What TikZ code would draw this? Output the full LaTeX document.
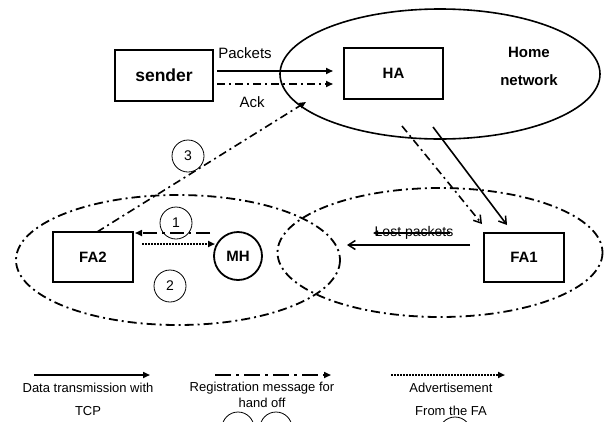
\documentclass[tikz,border=0pt]{standalone}
\usepackage{fontspec}
\setmainfont{Liberation Sans}
\usetikzlibrary{arrows.meta}
\begin{document}
\begin{tikzpicture}[x=1pt,y=-1pt,
  box/.style={draw, line width=1.8pt, inner sep=0pt, font=\fontsize{15}{18}\selectfont\bfseries},
  mhnode/.style={draw, circle, line width=1.8pt, minimum size=48pt, inner sep=0pt, font=\fontsize{15}{18}\selectfont\bfseries},
  num/.style={draw, circle, line width=0.8pt, minimum size=32pt, inner sep=0pt, font=\fontsize{14}{16}\selectfont},
  lbl/.style={inner sep=0pt, font=\fontsize{15}{18}\selectfont},
  leg/.style={inner sep=0pt, font=\fontsize{13}{15}\selectfont},
  area/.style={line width=1.8pt, dash pattern=on 9pt off 4pt on 2pt off 4pt},
  tipfill/.style={-{Triangle[length=7pt,width=6pt]}},
  tipbarb/.style={-{Straight Barb[length=7pt,width=9pt,line width=1.5pt]}},
  data/.style={line width=1.6pt},
  reg/.style={line width=1.6pt, dash pattern=on 8pt off 4pt on 2pt off 4pt},
  reglong/.style={line width=1.6pt, dash pattern=on 14pt off 5pt on 2.5pt off 5pt},
  adv/.style={line width=2pt, dash pattern=on 1.5pt off 1.5pt},
]
\useasboundingbox (0,0) rectangle (605,421);

% networks
\draw[line width=1.6pt] (440,74) ellipse [x radius=160, y radius=65];
\draw[area] (178,260) ellipse [x radius=162, y radius=65];
\draw[area] (440,252.5) ellipse [x radius=162.5, y radius=64.5];

% hosts and agents
\node[box, minimum width=98pt, minimum height=51pt, font=\fontsize{17.5}{20}\selectfont\bfseries] (sender) at (164,75.5) {sender};
\node[box, minimum width=99pt, minimum height=51pt] (ha) at (393.5,73.5) {HA};
\node[box, minimum width=80pt, minimum height=50pt] (fa2) at (93,257) {FA2};
\node[box, minimum width=80pt, minimum height=49pt] (fa1) at (524,257.5) {FA1};
\node[mhnode] (mh) at (238,256) {MH};

\node[lbl, font=\fontsize{15}{18}\selectfont\bfseries] (home) at (529,52) {Home};
\node[lbl, font=\fontsize{15}{18}\selectfont\bfseries] (network) at (529,80) {network};

% step numbers
\node[num] (n1) at (176,223) {1};
\node[num] (n2) at (170,286) {2};
\node[num] (n3) at (188,156) {3};

% connector end points
\coordinate (pk-a) at (217,71);   \coordinate (pk-b) at (333,71);
\coordinate (ack-a) at (217,84);  \coordinate (ack-b) at (333,84);
\coordinate (fa2-top) at (97,232); \coordinate (ha-in) at (306,102);
\coordinate (ha-r) at (402,126);  \coordinate (fa1-r) at (482,224);
\coordinate (ha-d) at (433,127);  \coordinate (fa1-d) at (507,225);
\coordinate (lost-a) at (470,245); \coordinate (lost-b) at (347,245);
\coordinate (strk-a) at (450,233); \coordinate (strk-b) at (373,233);
\coordinate (mh-reg) at (210,233); \coordinate (fa2-reg) at (135,233);
\coordinate (fa2-adv) at (142,244); \coordinate (mh-adv) at (215,244);

% messages
\draw[data, tipfill] (pk-a) -- (pk-b);
\draw[reg, tipfill] (ack-a) -- (ack-b);
\node[lbl] (packets) at (245,53) {Packets};
\node[lbl] (ack) at (252,102) {Ack};

\draw[reg, tipfill] (fa2-top) -- (ha-in);
\draw[reg, tipbarb] (ha-r) -- (fa1-r);
\draw[data, tipbarb] (ha-d) -- (fa1-d);

\draw[data, tipbarb] (lost-a) -- (lost-b);
\node[lbl, font=\fontsize{14}{16}\selectfont] (lost) at (414,233) {Lost packets};
\draw[line width=1.1pt, -{Triangle[length=5pt,width=5pt]}] (strk-a) -- (strk-b);

\draw[reglong, tipfill] (mh-reg) -- (fa2-reg);
\draw[adv, tipfill] (fa2-adv) -- (mh-adv);

% legend
\coordinate (l1a) at (34,375);  \coordinate (l1b) at (150,375);
\coordinate (l2a) at (215,375); \coordinate (l2b) at (331,375);
\coordinate (l3a) at (391,375); \coordinate (l3b) at (505,375);
\draw[data, tipfill] (l1a) -- (l1b);
\draw[line width=1.6pt, dash pattern=on 16pt off 5pt on 3pt off 5pt, tipfill] (l2a) -- (l2b);
\draw[adv, tipfill] (l3a) -- (l3b);
\node[leg] (t1a) at (88,388) {Data transmission with};
\node[leg] (t1b) at (88,411) {TCP};
\node[leg] (t2a) at (262,388) {Registration message for};
\node[leg] (t2b) at (262,403) {hand off};
\node[leg] (t3a) at (451,388) {Advertisement};
\node[leg] (t3b) at (451,411) {From the FA};

% circles at the lower border
\begin{scope}
  \clip (0,0) rectangle (605,421);
  \draw[line width=0.8pt] (238,428) circle [radius=16];
  \draw[line width=0.8pt] (276,428) circle [radius=16];
  \draw[line width=0.8pt] (455,433) circle [radius=16];
\end{scope}
\end{tikzpicture}
\end{document}
